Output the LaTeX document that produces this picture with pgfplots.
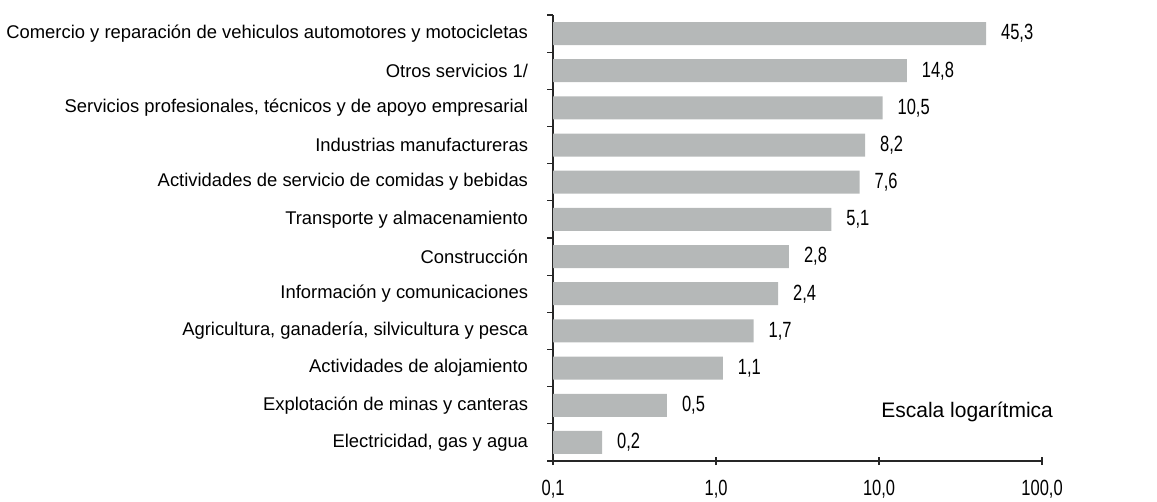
\documentclass[border=0pt]{standalone}
\usepackage{fontspec}
\setmainfont{Liberation Sans}
\newfontfamily\numfont{Liberation Sans}[FakeStretch=0.75]
\usepackage{pgfplots}
\usepackage{pgfplotstable}
\pgfplotsset{compat=1.18}
\definecolor{barfill}{RGB}{181,184,184}

\pgfplotstableread{
y x lab
0 0.2 0,2
1 0.5 0,5
2 1.1 1,1
3 1.7 1,7
4 2.4 2,4
5 2.8 2,8
6 5.1 5,1
7 7.6 7,6
8 8.2 8,2
9 10.5 10,5
10 14.8 14,8
11 45.3 45,3
}\datatable

\begin{document}
\begin{tikzpicture}
\begin{axis}[
  xbar, xmode=log, log origin x=infty,
  scale only axis, width=244.5pt, height=223pt,
  xmin=0.1, xmax=100, ymin=-0.5, ymax=11.5,
  axis lines*=left,
  axis line style={black!85, line width=0.6pt},
  xtick={0.1,1,10,100},
  xticklabels={{0,1},{1,0},{10,0},{100,0}},
  xminorticks=false,
  xticklabel style={font=\numfont\fontsize{11}{13}\selectfont, yshift=-4pt},
  x tick style={black!85, line width=0.6pt},
  xtick align=center, major tick length=4pt,
  ytick={0,...,11},
  yticklabels={{Electricidad, gas y agua},
    {Explotación de minas y canteras},
    {Actividades de alojamiento},
    {Agricultura, ganadería, silvicultura y pesca},
    {Información y comunicaciones},
    {Construcción},
    {Transporte y almacenamiento},
    {Actividades de servicio de comidas y bebidas},
    {Industrias manufactureras},
    {Servicios profesionales, técnicos y de apoyo empresarial},
    {Otros servicios 1/},
    {Comercio y reparación de vehiculos automotores y motocicletas}},
  yticklabel style={font=\fontsize{9.2}{11}\selectfont, xshift=-5pt},
  major y tick style={draw=none},
  minor ytick={-0.5,0.5,...,11.5},
  minor y tick style={black!85, line width=0.6pt},
  ytick align=outside, minor tick length=3pt,
  bar width=11.5pt,
  nodes near coords, point meta=explicit symbolic,
  nodes near coords style={font=\numfont\fontsize{11}{13}\selectfont, anchor=west, xshift=4pt},
  clip=false,
]
\addplot[draw=none, fill=barfill] table[x=x, y=y, meta=lab] {\datatable};
\node[font=\fontsize{10.5}{12}\selectfont] at (axis cs:34.7,0.82) {Escala logarítmica};
\coordinate (bl) at (rel axis cs:-1.131,-0.0897);
\coordinate (tr) at (rel axis cs:1.235,1.0336);
\end{axis}
\pgfresetboundingbox
\path[use as bounding box] (bl) rectangle (tr);
\end{tikzpicture}
\end{document}
